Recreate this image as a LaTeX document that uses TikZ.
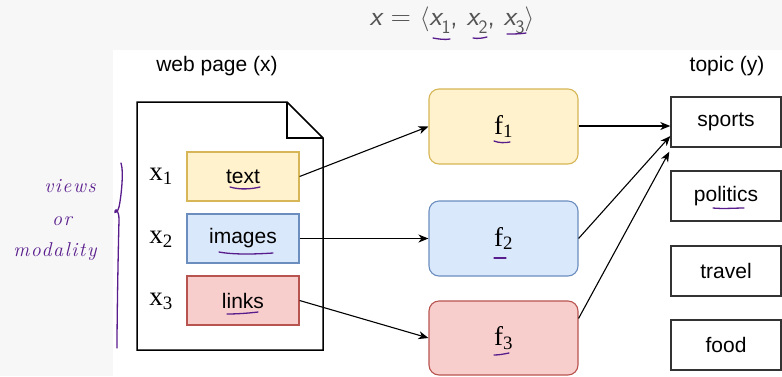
\documentclass[tikz,border=0pt]{standalone}
\usepackage{fontspec}
\setmainfont{Liberation Sans}
\newfontfamily\serifx{Liberation Serif}
\newfontfamily\hand{Latin Modern Roman}[LetterSpace=8]
\newfontfamily\titlef{Latin Modern Sans}
\usetikzlibrary{arrows.meta,calc}
\definecolor{pen}{RGB}{88,28,140}
\definecolor{bggrey}{RGB}{247,247,247}
\definecolor{yfill}{HTML}{FFF2CC}\definecolor{ydraw}{HTML}{D6B656}
\definecolor{bfill}{HTML}{DAE8FC}\definecolor{bdraw}{HTML}{6C8EBF}
\definecolor{rfill}{HTML}{F8CECC}\definecolor{rdraw}{HTML}{B85450}
\definecolor{tgrey}{RGB}{85,85,85}
\newcommand{\tx}[1]{\slshape x\upshape\raisebox{-0.28em}{\fontsize{19}{20}\selectfont #1}}
\begin{document}
\begin{tikzpicture}[x=1pt,y=-1pt,
  lab/.style={font=\fontsize{21}{24}\selectfont, inner sep=0pt},
  viewbox/.style={draw, line width=1.2pt, minimum width=112pt, minimum height=49pt, inner sep=0pt, font=\fontsize{21}{24}\selectfont},
  fbox/.style={draw, line width=1.1pt, rounded corners=10pt, minimum width=149pt, minimum height=75pt, inner sep=0pt, font=\serifx\fontsize{27}{28}\selectfont},
  topicbox/.style={draw=black!80, line width=1.4pt, minimum width=110pt, minimum height=50pt, inner sep=0pt, font=\fontsize{21}{24}\selectfont},
  xlab/.style={inner sep=0pt, font=\serifx\fontsize{27}{28}\selectfont},
  conn/.style={line width=1.1pt, -{Stealth[length=10pt,width=8pt,inset=3pt]}},
  ink/.style={pen, line width=1.3pt, line cap=round},
  handtxt/.style={pen, inner sep=0pt, font=\hand\itshape\fontsize{20}{21}\selectfont}
]
\useasboundingbox (0,0) rectangle (782,376);
\fill[bggrey] (0,0) rectangle (782,376);
\fill[white] (113,50) rectangle (782,376);

% title
\node[inner sep=0pt, text=tgrey, font=\titlef\fontsize{28}{30}\selectfont] (title) at (452,20)
  {\slshape x\upshape{} = $\langle$\tx{1}, \tx{2}, \tx{3}$\rangle$};

% headings
\node[lab] (wp) at (217,66) {web page (x)};
\node[lab] (tp) at (727,66) {topic (y)};

% document shape
\draw[line width=1.5pt, line join=miter] (137,102) -- (287,102) -- (323,138) -- (323,350) -- (137,350) -- cycle;
\draw[line width=1.5pt] (287,102) -- (287,138) -- (323,138);

% views
\node[viewbox, fill=yfill, draw=ydraw] (text) at (243,176.5) {text};
\node[viewbox, fill=bfill, draw=bdraw] (images) at (243,238.5) {images};
\node[viewbox, fill=rfill, draw=rdraw] (links) at (243,300.5) {links};

\node[xlab] (x1) at (161,176) {x\textsubscript{1}};
\node[xlab] (x2) at (161,239) {x\textsubscript{2}};
\node[xlab] (x3) at (161,301) {x\textsubscript{3}};

% functions
\node[fbox, fill=yfill, draw=ydraw] (f1) at (503.5,126.5) {f\textsubscript{1}};
\node[fbox, fill=bfill, draw=bdraw] (f2) at (503.5,238.5) {f\textsubscript{2}};
\node[fbox, fill=rfill, draw=rdraw, minimum height=74pt] (f3) at (503.5,338) {f\textsubscript{3}};

% topics
\node[topicbox] (sports) at (726,122) {sports};
\node[topicbox] (politics) at (726,196) {politics};
\node[topicbox] (travel) at (726,271) {travel};
\node[topicbox] (food) at (726,345) {food};

% connectors
\draw[conn] (text.east) -- (f1.west);
\draw[conn] (images.east) -- (f2.west);
\draw[conn] (links.east) -- (f3.west);
\coordinate (s1) at ($(sports.west)+(0,4)$);
\coordinate (s2) at ($(sports.west)+(0,14)$);
\coordinate (s3) at ($(sports.south west)+(-1,4)$);
\draw[conn] (f1.east |- s1) -- (s1);
\draw[conn] (f2.east) -- (s2);
\coordinate (f3s) at ($(f3.north east)+(0,18)$);
\draw[conn] (f3s) -- (s3);

% handwritten annotations
\draw[ink] (230,187) .. controls (240,190) and (252,189) .. (260,187);
\draw[ink] (219,252) .. controls (235,255) and (258,254) .. (273,253);
\draw[ink] (227,314) .. controls (238,314) and (250,313) .. (258,312);
\draw[ink] (494,141) .. controls (499,143) and (505,143) .. (510,142);
\draw[ink] (494,258) .. controls (498,258) and (502,258) .. (506,258);
\draw[ink] (494,355) .. controls (499,355) and (504,354) .. (509,353);
\draw[ink] (713,208) .. controls (723,209) and (735,208) .. (744,208);
\draw[ink] (433,38) .. controls (438,39) and (445,40) .. (450,39);
\draw[ink] (473,38) .. controls (478,39) and (483,38) .. (487,37);
\draw[ink] (507,34) .. controls (513,34) and (520,34) .. (526,33);
\draw[ink] (121,163) .. controls (124,172) and (121,198) .. (119,207)
  .. controls (118,212) and (114,214) .. (115,211)
  .. controls (116,208) and (119,211) .. (119,220)
  .. controls (118,260) and (117,320) .. (117,348);
\node[handtxt] (views) at (70,186) {views};
\node[handtxt] (or) at (62,221) {or};
\node[handtxt] (modality) at (55,252) {modality};
\end{tikzpicture}
\end{document}
